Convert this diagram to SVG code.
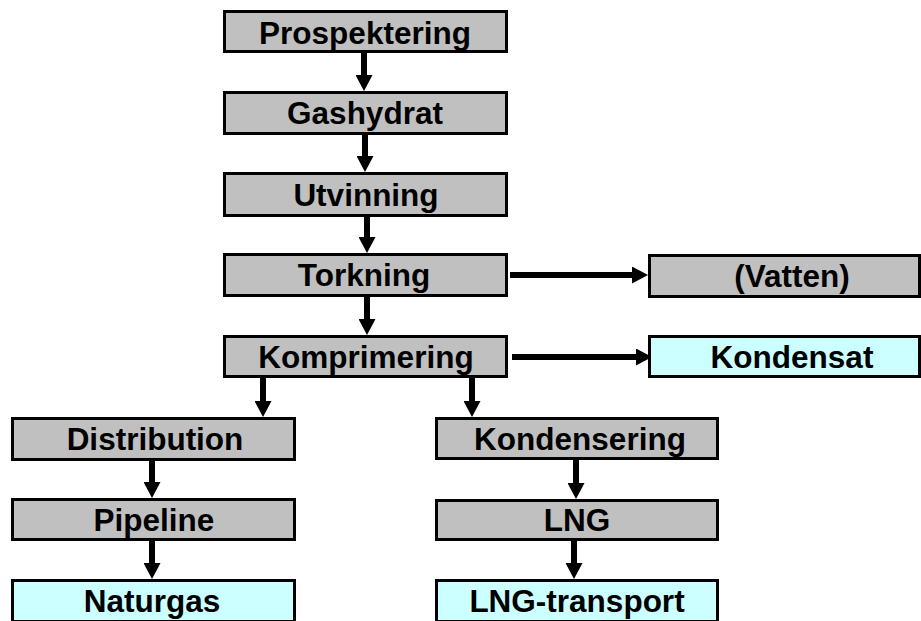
<svg xmlns="http://www.w3.org/2000/svg" width="921" height="621" viewBox="0 0 921 621">
  <style>
    .box { stroke: #000; stroke-width: 3; }
    .grey { fill: #C0C0C0; }
    .cyan { fill: #CCFFFF; }
    .lbl { font-family: "Liberation Sans", Arial, sans-serif; font-weight: bold; font-size: 31.5px; fill: #000; text-anchor: middle; }
    .conn { stroke: #000; stroke-width: 6; fill: none; marker-end: url(#head); }
  </style>
  <defs>
    <marker id="head" markerUnits="userSpaceOnUse" markerWidth="17" markerHeight="17" refX="1" refY="8.5" orient="auto">
      <path d="M0,0 L16,8.5 L0,17 Z" fill="#000"/>
    </marker>
  </defs>
  <rect width="921" height="621" fill="#fff"/>

  <g id="connectors">
    <line class="conn" x1="364" y1="53" x2="364" y2="76"/>
    <line class="conn" x1="365" y1="135" x2="365" y2="157"/>
    <line class="conn" x1="367" y1="217" x2="367" y2="238"/>
    <line class="conn" x1="367" y1="297" x2="367" y2="320"/>
    <line class="conn" x1="510" y1="275" x2="633" y2="275"/>
    <line class="conn" x1="512" y1="357" x2="637" y2="357"/>
    <line class="conn" x1="263" y1="378" x2="263" y2="402"/>
    <line class="conn" x1="472" y1="378" x2="472" y2="402"/>
    <line class="conn" x1="152" y1="461" x2="152" y2="483"/>
    <line class="conn" x1="152" y1="541" x2="152" y2="564"/>
    <line class="conn" x1="576" y1="460" x2="576" y2="484"/>
    <line class="conn" x1="574" y1="540" x2="574" y2="564"/>
  </g>

  <g id="prospektering">
    <rect class="box grey" x="224.5" y="11.5" width="282" height="40"/>
    <text class="lbl" x="365" y="44">Prospektering</text>
  </g>
  <g id="gashydrat">
    <rect class="box grey" x="224.5" y="92.5" width="282" height="41"/>
    <text class="lbl" x="365" y="124">Gashydrat</text>
  </g>
  <g id="utvinning">
    <rect class="box grey" x="224.5" y="173.5" width="282" height="42"/>
    <text class="lbl" x="366" y="206">Utvinning</text>
  </g>
  <g id="torkning">
    <rect class="box grey" x="224.5" y="254.5" width="282" height="41"/>
    <text class="lbl" x="364" y="286">Torkning</text>
  </g>
  <g id="komprimering">
    <rect class="box grey" x="224.5" y="336.5" width="282" height="40"/>
    <text class="lbl" x="366" y="368">Komprimering</text>
  </g>
  <g id="vatten">
    <rect class="box grey" x="649.5" y="255.5" width="270" height="41"/>
    <text class="lbl" x="792" y="287">(Vatten)</text>
  </g>
  <g id="kondensat">
    <rect class="box cyan" x="649.5" y="336.5" width="270" height="40"/>
    <text class="lbl" x="792" y="368">Kondensat</text>
  </g>
  <g id="distribution">
    <rect class="box grey" x="12.5" y="418.5" width="282" height="41"/>
    <text class="lbl" x="155" y="450">Distribution</text>
  </g>
  <g id="pipeline">
    <rect class="box grey" x="12.5" y="499.5" width="282" height="40"/>
    <text class="lbl" x="154" y="531">Pipeline</text>
  </g>
  <g id="naturgas">
    <rect class="box cyan" x="12.5" y="580.5" width="282" height="41"/>
    <text class="lbl" x="152" y="612">Naturgas</text>
  </g>
  <g id="kondensering">
    <rect class="box grey" x="436.5" y="418.5" width="281" height="40"/>
    <text class="lbl" x="580" y="450">Kondensering</text>
  </g>
  <g id="lng">
    <rect class="box grey" x="436.5" y="500.5" width="281" height="39"/>
    <text class="lbl" x="577" y="531">LNG</text>
  </g>
  <g id="lng-transport">
    <rect class="box cyan" x="436.5" y="580.5" width="281" height="41"/>
    <text class="lbl" x="577" y="612">LNG-transport</text>
  </g>
</svg>
